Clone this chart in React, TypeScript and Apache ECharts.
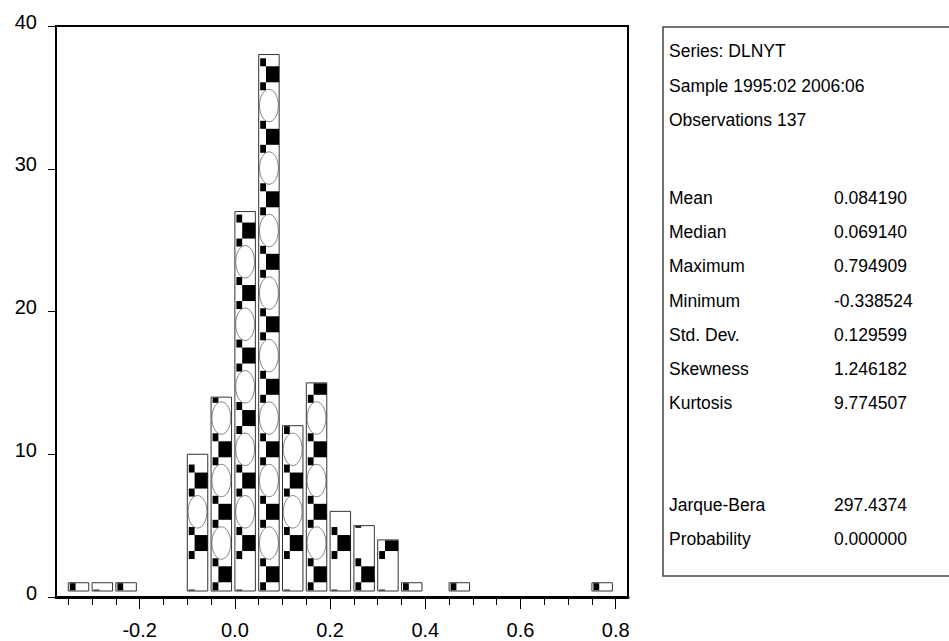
import React, { useEffect, useRef } from "react";
import * as echarts from "echarts";

// ---- data ----
const binStarts = [-0.35, -0.3, -0.25, -0.1, -0.05, 0, 0.05, 0.1, 0.15, 0.2, 0.25, 0.3, 0.35, 0.45, 0.75];
const counts = [1, 1, 1, 10, 14, 27, 38, 12, 15, 6, 5, 4, 1, 1, 1];
const majorTicks = [-0.2, 0, 0.2, 0.4, 0.6, 0.8];
const minorTicks = [-0.35, -0.3, -0.25, -0.2, -0.15, -0.1, -0.05, 0, 0.05, 0.1, 0.15, 0.2, 0.25, 0.3, 0.35, 0.4, 0.45, 0.5, 0.55, 0.6, 0.65, 0.7, 0.75, 0.8];
const headerLines = ["Series: DLNYT", "Sample 1995:02 2006:06", "Observations 137"];
const statNames = ["Mean", "Median", "Maximum", "Minimum", "Std. Dev.", "Skewness", "Kurtosis"];
const statValues = ["0.084190", "0.069140", "0.794909", "-0.338524", "0.129599", "1.246182", "9.774507"];
const testNames = ["Jarque-Bera", "Probability"];
const testValues = ["297.4374", "0.000000"];
const BIN = 0.05;
const X_MIN = -0.3758;
const X_MAX = 0.8258;

const FONT = "'Liberation Sans', Arial, sans-serif";

export default function App() {
  const ref = useRef<HTMLDivElement>(null);
  useEffect(() => {
    document.body.style.margin = "0";
    if (!ref.current) return;
    const chart = echarts.init(ref.current, undefined, { renderer: "svg" });

    const renderItem = (params: any, api: any) => {
      const start = api.value(0) as number;
      const v = api.value(1) as number;
      const idx = Math.round((start - binStarts[0]) / BIN);
      const pTop = api.coord([start, v]);
      const pZero = api.coord([start, 0]);
      const pRight = api.coord([start + BIN * 0.86, 0]);
      const x0 = pTop[0];
      const w = pRight[0] - x0;
      const top = pTop[1];
      const bottom = pZero[1] - 6;
      const children: any[] = [
        {
          type: "rect",
          shape: { x: x0, y: top, width: w, height: bottom - top },
          style: { fill: "#fff", stroke: "#333", lineWidth: 1 },
        },
      ];
      const period = 62.5;
      const base = pZero[1] - 22.7 - (idx % 2 === 1 ? period / 2 : 0) + period;
      for (let c = base; c + 16 > top; c -= period) {
        const pieces = [
          [x0 + 1.5, c - 16, 5.8, 8],
          [x0 + 7.3, c - 8, w - 7.3, 16],
          [x0 + 1.5, c + 8, 5.8, 8],
        ];
        for (const [px, py, pw, ph] of pieces) {
          const y1 = Math.max(py, top + 0.5);
          const y2 = Math.min(py + ph, bottom - 0.5);
          if (y2 > y1) {
            children.push({
              type: "rect",
              shape: { x: px, y: y1, width: pw, height: y2 - y1 },
              style: { fill: "#000" },
            });
          }
        }
        const gy1 = c + 16;
        const gy2 = c + period - 16;
        if (gy1 > top + 4 && gy2 < bottom - 4) {
          children.push({
            type: "ellipse",
            shape: { cx: x0 + w / 2, cy: (gy1 + gy2) / 2, rx: w / 2 - 0.8, ry: (gy2 - gy1) / 2 + 1 },
            style: { fill: "none", stroke: "#666", lineWidth: 0.8 },
          });
        }
      }
      return { type: "group", children };
    };

    const graphics: any[] = [
      {
        type: "rect",
        shape: { x: 663, y: 27, width: 320, height: 549 },
        style: { fill: "none", stroke: "#444", lineWidth: 1.5 },
      },
    ];
    const addText = (text: string, x: number, y: number) =>
      graphics.push({
        type: "text",
        style: { text, x, y, fontSize: 17.5, fontFamily: FONT, fill: "#000", align: "left", verticalAlign: "middle" },
      });
    headerLines.forEach((t, i) => addText(t, 669, 51 + i * 34.5));
    statNames.forEach((t, i) => {
      addText(t, 669, 198 + i * 34.2);
      addText(statValues[i], 834, 198 + i * 34.2);
    });
    testNames.forEach((t, i) => {
      addText(t, 669, 505 + i * 34);
      addText(testValues[i], 834, 505 + i * 34);
    });

    chart.setOption({
      animation: false,
      backgroundColor: "#fff",
      grid: {
        left: 56,
        top: 26,
        width: 572,
        height: 571,
        show: true,
        borderColor: "#000",
        borderWidth: 2,
        backgroundColor: "transparent",
      },
      xAxis: [
        {
          type: "value",
          min: X_MIN,
          max: X_MAX,
          position: "bottom",
          axisLine: { show: true, onZero: false, lineStyle: { color: "#000", width: 3 } },
          axisTick: { show: true, customValues: majorTicks, length: 12, lineStyle: { color: "#000", width: 1 } },
          axisLabel: {
            show: true,
            customValues: majorTicks,
            formatter: (v: number) => v.toFixed(1),
            fontSize: 20,
            fontFamily: FONT,
            color: "#000",
            margin: 23,
          },
          splitLine: { show: false },
        },
        {
          type: "value",
          min: X_MIN,
          max: X_MAX,
          position: "bottom",
          axisLine: { show: false, onZero: false },
          axisTick: { show: true, customValues: minorTicks, length: 8, lineStyle: { color: "#000", width: 1 } },
          axisLabel: { show: false },
          splitLine: { show: false },
        },
      ],
      yAxis: {
        type: "value",
        min: 0,
        max: 40,
        interval: 10,
        axisLine: { show: true, onZero: false, lineStyle: { color: "#000", width: 2 } },
        axisTick: { show: true, length: 8, lineStyle: { color: "#000", width: 1 } },
        axisLabel: {
          fontSize: 20,
          fontFamily: FONT,
          color: "#000",
          margin: 19,
          verticalAlign: "bottom",
          lineHeight: 9,
        },
        splitLine: { show: false },
      },
      series: [
        {
          type: "custom",
          xAxisIndex: 0,
          yAxisIndex: 0,
          renderItem,
          data: binStarts.map((b, i) => [b, counts[i]]),
        },
      ],
      graphic: graphics,
    });
    return () => chart.dispose();
  }, []);
  return <div ref={ref} style={{ width: 949, height: 641 }} />;
}
